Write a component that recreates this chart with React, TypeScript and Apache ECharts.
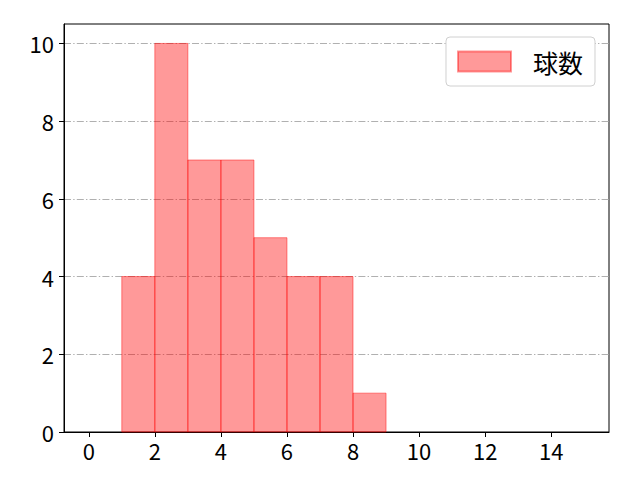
import { useEffect, useRef } from 'react';
import * as echarts from 'echarts';

// histogram bins (left edge, right edge) and counts
const binStarts = [1, 2, 3, 4, 5, 6, 7, 8];
const binEnds = [2, 3, 4, 5, 6, 7, 8, 9];
const counts = [4, 10, 7, 7, 5, 4, 4, 1];
const xTicks = [0, 2, 4, 6, 8, 10, 12, 14];
const yTicks = [0, 2, 4, 6, 8, 10];
const seriesName = '球数';

const FONT = '"Noto Sans CJK JP", "DejaVu Sans", sans-serif';

export default function App() {
  const ref = useRef<HTMLDivElement | null>(null);

  useEffect(() => {
    if (!ref.current) return;
    const chart = echarts.init(ref.current, undefined, { renderer: 'svg' });

    const data = counts.map((c, i) => [binStarts[i], binEnds[i], c]);

    chart.setOption({
      animation: false,
      backgroundColor: '#fff',
      textStyle: { fontFamily: FONT },
      grid: {
        left: 64,
        right: 31,
        top: 24,
        bottom: 48,
        show: true,
        borderColor: '#000',
        borderWidth: 1,
        backgroundColor: 'transparent',
      },
      legend: {
        right: 45,
        top: 37,
        icon: 'rect',
        itemWidth: 53,
        itemHeight: 20,
        padding: [12, 12, 12, 11],
        backgroundColor: '#fff',
        borderColor: '#d0d0d0',
        borderWidth: 1,
        borderRadius: 4,
        textStyle: {
          fontSize: 25,
          color: '#000',
          fontFamily: FONT,
          padding: [0, 0, 0, 17],
        },
        data: [seriesName],
      },
      xAxis: {
        type: 'value',
        min: -0.75,
        max: 15.75,
        axisLine: { onZero: false, lineStyle: { color: '#000', width: 1 } },
        axisTick: {
          show: true,
          length: 5,
          customValues: xTicks,
          lineStyle: { color: '#000' },
        },
        axisLabel: {
          customValues: xTicks,
          color: '#000',
          fontSize: 22,
          margin: 7,
          fontFamily: FONT,
        },
        splitLine: { show: false },
      },
      yAxis: {
        type: 'value',
        min: 0,
        max: 10.5,
        interval: 2,
        axisLine: { show: true, onZero: false, lineStyle: { color: '#000', width: 1 } },
        axisTick: {
          show: true,
          length: 5,
          customValues: yTicks,
          lineStyle: { color: '#000' },
        },
        axisLabel: {
          customValues: yTicks,
          color: '#000',
          fontSize: 22,
          margin: 10,
          fontFamily: FONT,
        },
        splitLine: {
          show: true,
          lineStyle: { color: '#b0b0b0', width: 1, type: [7, 2.2, 1.4, 2.2] },
        },
      },
      series: [
        {
          name: seriesName,
          type: 'custom',
          itemStyle: {
            color: 'rgba(255,0,0,0.4)',
            borderColor: 'rgba(255,0,0,0.4)',
            borderWidth: 1,
          },
          renderItem: (_params: any, api: any) => {
            const p0 = api.coord([api.value(0), 0]);
            const p1 = api.coord([api.value(1), api.value(2)]);
            return {
              type: 'rect',
              shape: {
                x: p0[0],
                y: p1[1],
                width: p1[0] - p0[0],
                height: p0[1] - p1[1],
              },
              style: {
                fill: 'rgba(255,0,0,0.4)',
                stroke: 'rgba(255,0,0,0.45)',
                lineWidth: 1,
              },
            };
          },
          encode: { x: [0, 1], y: 2 },
          data,
        },
      ],
    });

    return () => chart.dispose();
  }, []);

  return <div ref={ref} style={{ width: 640, height: 480, margin: -8 }} />;
}
